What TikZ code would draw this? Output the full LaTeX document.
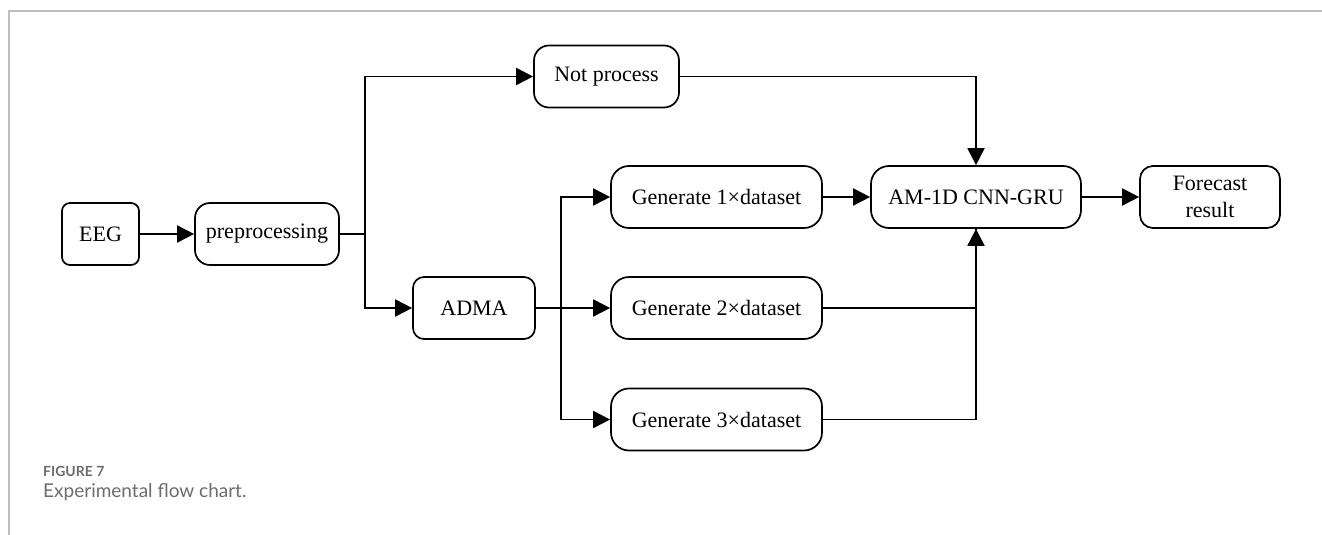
\documentclass[tikz,border=0pt]{standalone}
\usepackage{fontspec}
\setmainfont{Liberation Serif}
\newfontfamily\capfont{Lato}
\usetikzlibrary{arrows.meta}
\definecolor{framegray}{RGB}{190,190,190}
\definecolor{capgray}{RGB}{108,108,108}

\begin{document}
\begin{tikzpicture}[x=1pt,y=-1pt,
  box/.style={draw,line width=1.7pt,minimum height=62pt,inner sep=0pt,align=center,font=\fontsize{22}{26.5}\selectfont},
  line/.style={line width=1.9pt},
  arr/.style={line width=1.9pt,-{Triangle[length=17pt,width=17pt]}}]

\useasboundingbox (0,0) rectangle (1322,535);
\draw [framegray,line width=1.2pt] (1322,11) -- (9,11) -- (9,535);

\node [box,rounded corners=8pt,minimum width=77pt] (eeg) at (100.5,234) {EEG};
\node [box,rounded corners=15pt,minimum width=144pt] (prep) at (267,234) {preprocessing};
\node [box,rounded corners=15pt,minimum width=145pt] (notp) at (606.5,76.5) {Not process};
\node [box,rounded corners=11pt,minimum width=122pt] (adma) at (474,308) {ADMA};
\node [box,rounded corners=18pt,minimum width=211pt] (gen1) at (716.5,197) {Generate 1×dataset};
\node [box,rounded corners=18pt,minimum width=211pt] (gen2) at (716.5,308) {Generate 2×dataset};
\node [box,rounded corners=18pt,minimum width=211pt] (gen3) at (716.5,419.5) {Generate 3×dataset};
\node [box,rounded corners=18pt,minimum width=210pt] (model) at (976,197) {AM-1D CNN-GRU};
\node [box,rounded corners=13pt,minimum width=140pt] (result) at (1210,197) {Forecast\\result};

\coordinate (split1) at (365,234);
\coordinate (split2) at (561,308);

\draw [arr] (eeg) -- (prep);
\draw [line] (prep) -- (split1);
\draw [arr] (split1) |- (notp);
\draw [arr] (split1) |- (adma);
\draw [arr] (adma) -- (gen2);
\draw [arr] (split2) |- (gen1);
\draw [arr] (split2) |- (gen3);
\draw [arr] (notp) -| (model);
\draw [arr] (gen1) -- (model);
\draw [arr] (gen2) -| (model);
\draw [line] (gen3) -| (model.south);
\draw [arr] (model) -- (result);

\node [anchor=base west,inner sep=0pt,capgray,font=\capfont\bfseries\fontsize{14}{16}\selectfont] (fignum) at (43,476) {FIGURE 7};
\node [anchor=base west,inner sep=0pt,capgray,font=\capfont\fontsize{19}{22}\selectfont] (figcap) at (43,497) {Experimental flow chart.};
\end{tikzpicture}
\end{document}
